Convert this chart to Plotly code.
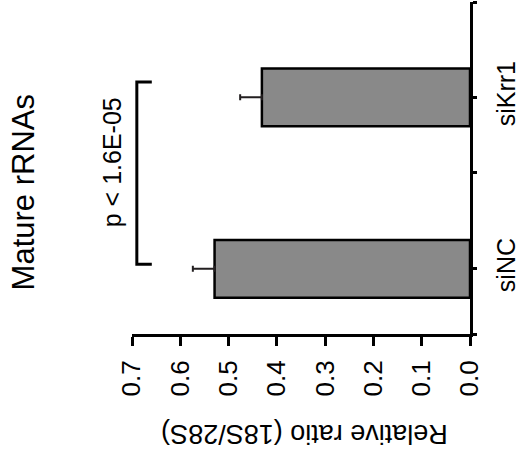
import plotly.graph_objects as go

categories = ["siNC", "siKrr1"]
values = [0.529, 0.431]
errors = [0.045, 0.045]
x_ticks = [0.0, 0.1, 0.2, 0.3, 0.4, 0.5, 0.6, 0.7]
x_tick_labels = ["0.0", "0.1", "0.2", "0.3", "0.4", "0.5", "0.6", "0.7"]
title_text = "Mature rRNAs"
value_title = "Relative ratio (18S/28S)"
p_text = "p < 1.6E-05"

pos = list(range(len(categories)))
FONT = "Liberation Sans, Arial, Helvetica, sans-serif"

fig = go.Figure()
fig.add_trace(go.Bar(
    y=pos, x=values, orientation="h", width=0.337,
    marker=dict(color="#898989", line=dict(color="#000000", width=2.5)),
    error_x=dict(type="data", symmetric=False, array=errors,
                 arrayminus=[0] * len(errors),
                 color="#231f20", thickness=2, width=3),
    showlegend=False,
))

y_lo, y_hi = -0.38, 1.556
tickvals = [y_lo, pos[0], 0.56, pos[1], y_hi]
ticktext = ["", categories[0], "", categories[1], ""]

fig.update_layout(
    width=520, height=460,
    margin=dict(l=132, r=50, t=2, b=126),
    paper_bgcolor="white", plot_bgcolor="white",
    font=dict(family=FONT, color="#000000"),
    xaxis=dict(
        range=[0.7, 0.0], tickvals=x_ticks, ticktext=x_tick_labels,
        tickangle=-90, ticks="outside", ticklen=9, tickwidth=3,
        tickcolor="#000", showline=True, linewidth=3, linecolor="#000",
        showgrid=False, zeroline=False, tickfont=dict(size=26),
        ticklabelstandoff=4, automargin=False,
    ),
    yaxis=dict(
        range=[y_lo, y_hi], side="right", tickvals=tickvals, ticktext=ticktext,
        tickangle=-90, ticks="outside", ticklen=4, tickwidth=3,
        tickcolor="#000", showline=True, linewidth=3, linecolor="#000",
        showgrid=False, zeroline=False, tickfont=dict(size=25),
        ticklabelstandoff=8, automargin=False,
    ),
    shapes=[dict(
        type="path", xref="x", yref="y",
        path="M 0.659 1.089 L 0.690 1.089 L 0.690 0.027 L 0.659 0.027",
        line=dict(color="#000", width=3),
    )],
    annotations=[
        dict(text=p_text, xref="paper", yref="y", x=-0.059, y=0.622,
             showarrow=False, textangle=-90, font=dict(size=25),
             xanchor="center", yanchor="middle"),
        dict(text=title_text, xref="paper", yref="paper", x=-0.32, y=0.426,
             showarrow=False, textangle=-90, font=dict(size=31),
             xanchor="center", yanchor="middle"),
        dict(text=value_title, xref="paper", yref="paper", x=0.51, y=-0.299,
             showarrow=False, textangle=180, font=dict(size=27),
             xanchor="center", yanchor="middle"),
    ],
)

fig.write_html("out.html")
